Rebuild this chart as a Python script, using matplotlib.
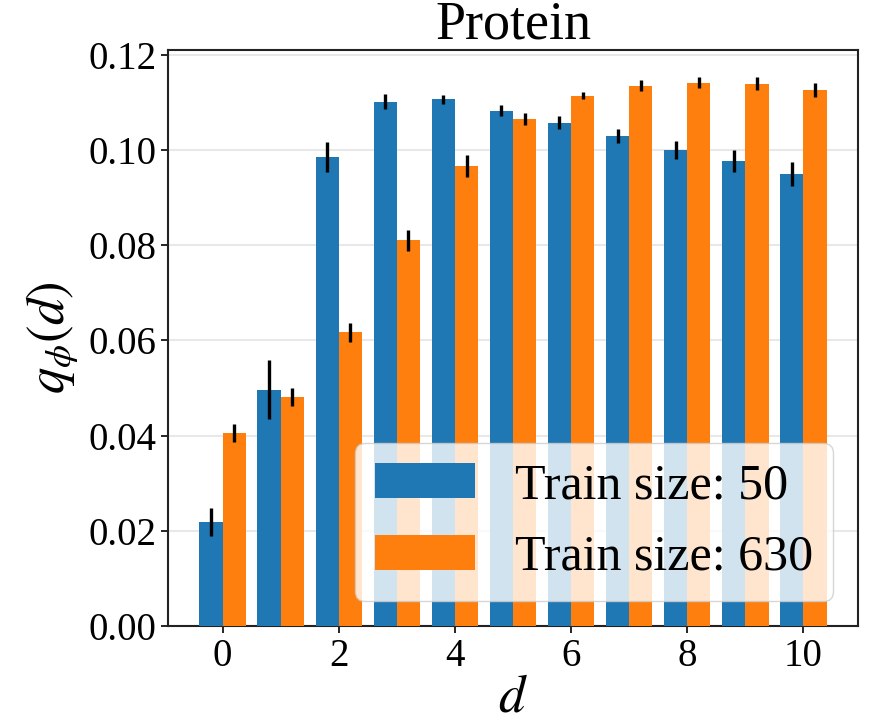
import matplotlib
matplotlib.use("Agg")
import matplotlib.pyplot as plt
import numpy as np

plt.rcParams['font.family'] = ['Liberation Serif', 'DejaVu Serif']
plt.rcParams['mathtext.fontset'] = 'stix'

d_values = [0, 1, 2, 3, 4, 5, 6, 7, 8, 9, 10]
q_train50 = [0.0218, 0.0496, 0.0985, 0.1101, 0.1106, 0.1082, 0.1057, 0.1029, 0.0999, 0.0976, 0.0949]
err_train50 = [0.0029, 0.0062, 0.0031, 0.0016, 0.0010, 0.0012, 0.0013, 0.0015, 0.0019, 0.0023, 0.0026]
q_train630 = [0.0405, 0.0480, 0.0617, 0.0810, 0.0966, 0.1065, 0.1114, 0.1135, 0.1141, 0.1139, 0.1125]
err_train630 = [0.0019, 0.0019, 0.0020, 0.0022, 0.0023, 0.0012, 0.0008, 0.0011, 0.0011, 0.0013, 0.0015]
labels = ["Train size: 50", "Train size: 630"]
title = "Protein"

fig = plt.figure(figsize=(8.75, 7.25), dpi=100)
ax = fig.add_axes([0.192, 0.1366, 0.7886, 0.7944])

x = np.array(d_values)
w = 0.4
ax.bar(x - w / 2, q_train50, w, yerr=err_train50, color='#1f77b4', label=labels[0],
       error_kw=dict(elinewidth=2.4, ecolor='black', capsize=0), zorder=3)
ax.bar(x + w / 2, q_train630, w, yerr=err_train630, color='#ff7f0e', label=labels[1],
       error_kw=dict(elinewidth=2.4, ecolor='black', capsize=0), zorder=3)

ax.set_axisbelow(True)
ax.yaxis.grid(True, color='#e8e8e8', linewidth=1.5, zorder=0)
ax.set_xticks([0, 2, 4, 6, 8, 10])
ax.set_yticks([0.0, 0.02, 0.04, 0.06, 0.08, 0.10, 0.12])
ax.set_yticklabels(["0.00", "0.02", "0.04", "0.06", "0.08", "0.10", "0.12"])
ax.tick_params(axis='both', labelsize=28, length=5, width=1.2)
for s in ax.spines.values():
    s.set_linewidth(1.5)
    s.set_color('#222222')

ax.set_xlabel(r"$d$", fontsize=38, labelpad=0)
ax.set_ylabel(r"$q_\phi(d)$", fontsize=38, labelpad=6)
ax.set_title(title, fontsize=39, pad=4)
ax.legend(loc='lower right', fontsize=36, framealpha=0.8)

fig.savefig("out.png", dpi=100)
